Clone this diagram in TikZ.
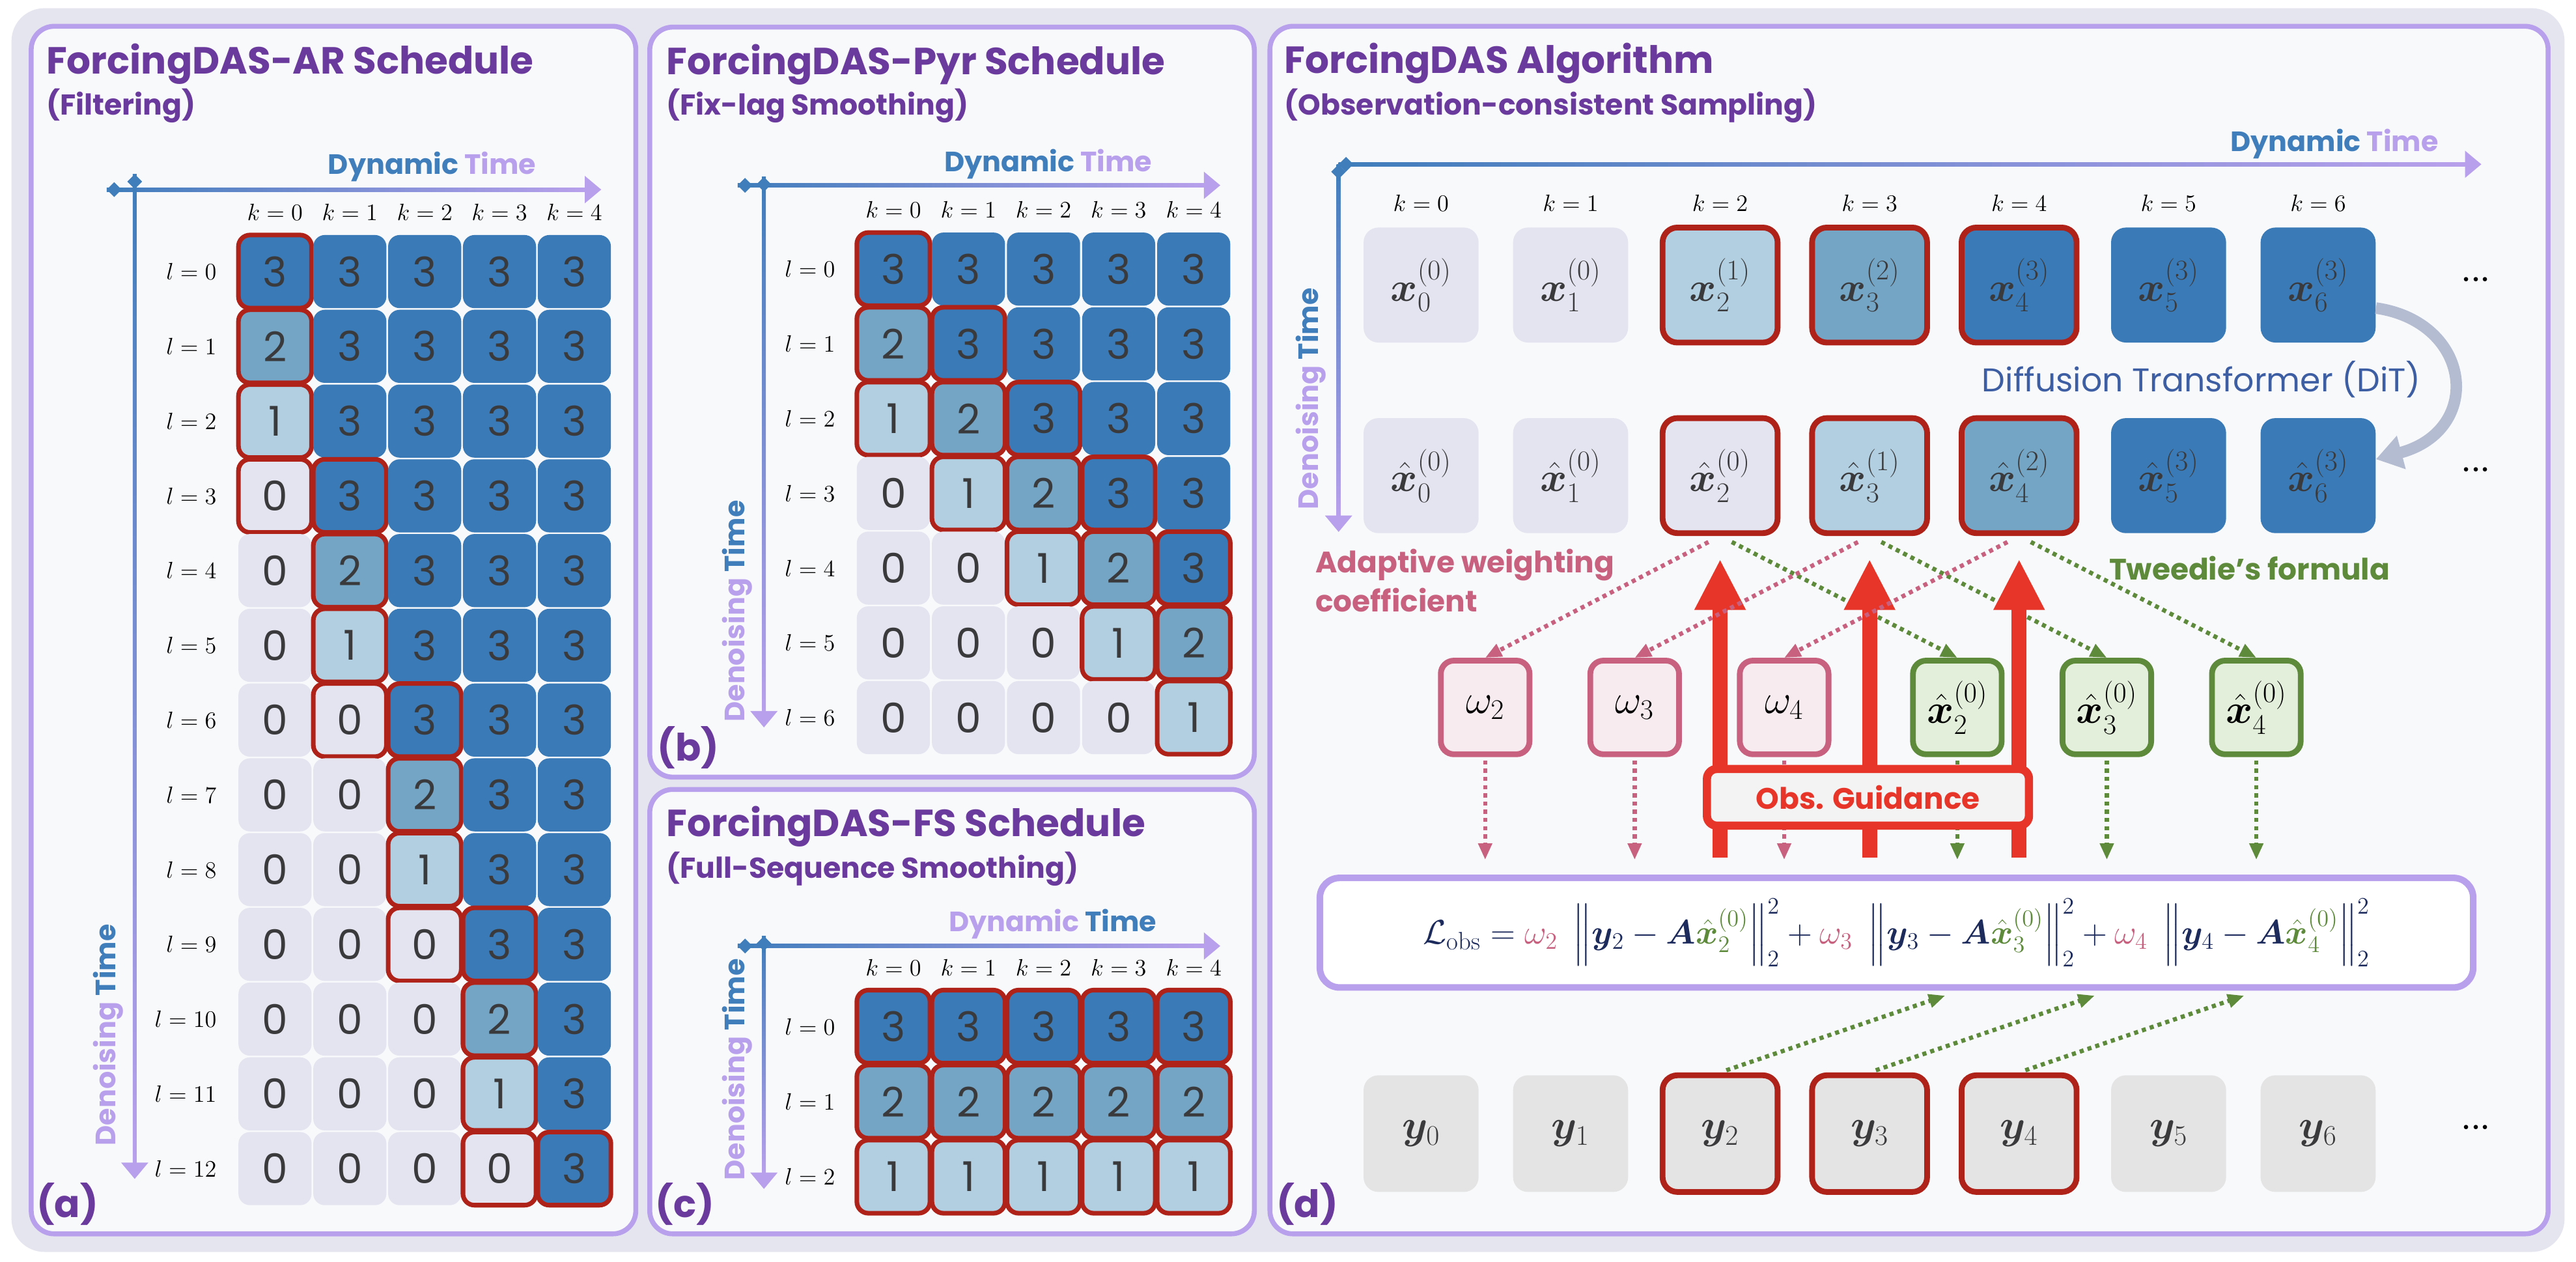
\documentclass[tikz,border=0pt]{standalone}
\usepackage{amsmath}
\usepackage{bm}
\usepackage{fontspec}
\usetikzlibrary{arrows.meta,positioning,calc}

\newfontfamily\comicfont{Poppins}

\definecolor{bgout}{HTML}{E5E5F0}
\definecolor{panelfill}{HTML}{F8F9FB}
\definecolor{panelline}{HTML}{B9A0EC}
\definecolor{titlepurple}{HTML}{6A3A9C}
\definecolor{darkblue}{HTML}{3A7AB6}
\definecolor{midblue}{HTML}{74A5C5}
\definecolor{lightblue}{HTML}{B1CFE0}
\definecolor{lvgray}{HTML}{E4E4F0}
\definecolor{redline}{HTML}{AE2219}
\definecolor{digit}{HTML}{3A3A3C}
\definecolor{axblue}{HTML}{3F7DBB}
\definecolor{axlilac}{HTML}{B9A0EC}
\definecolor{wpink}{HTML}{C7617F}
\definecolor{wfill}{HTML}{F8EBEF}
\definecolor{tgreen}{HTML}{5E8A3B}
\definecolor{tfill}{HTML}{E3EFDA}
\definecolor{obsred}{HTML}{E8352A}
\definecolor{obsfill}{HTML}{F3F3F3}
\definecolor{ygray}{HTML}{E4E4E4}
\definecolor{navy}{HTML}{1C2A5C}
\definecolor{ditblue}{HTML}{3E5EA3}
\definecolor{ditgray}{HTML}{B4BCD2}

\newcommand{\ttlfnt}{\comicfont\bfseries\fontsize{23}{27}\selectfont}
\newcommand{\subfnt}{\comicfont\bfseries\fontsize{17.5}{20}\selectfont}
\newcommand{\axfnt}{\comicfont\bfseries\fontsize{17}{20}\selectfont}
\newcommand{\celltxt}{\comicfont\fontsize{25}{28}\selectfont}
\newcommand{\labfnt}{\fontsize{15}{18}\selectfont}
\newcommand{\symfnt}{\fontsize{26}{30}\selectfont}
\newcommand{\notefnt}{\comicfont\bfseries\fontsize{18}{23.6}\selectfont}

% horizontal start, vertical x, horizontal y, horizontal end, vertical start, vertical end
\newcommand{\timeaxes}[6]{%
  \shade[left color=axblue,right color=axlilac] (#1,#3-1.2) rectangle (#4-8,#3+1.2);
  \draw[axlilac,line width=2.4pt,-{Triangle[length=10pt,width=16pt]}] (#4-11,#3) -- (#4,#3);
  \draw[axblue,line width=2.4pt,{Diamond[length=9pt,width=9pt]}-] (#1,#3) -- (#1+10,#3);
  \shade[top color=axblue,bottom color=axlilac] (#2-1.2,#5) rectangle (#2+1.2,#6-8);
  \draw[axlilac,line width=2.4pt,-{Triangle[length=10pt,width=16pt]}] (#2,#6-11) -- (#2,#6);
  \draw[axblue,line width=2.4pt,{Diamond[length=9pt,width=9pt]}-] (#2,#5) -- (#2,#5+10);
}

\begin{document}
\begin{tikzpicture}[x=1pt,y=-1pt,
    panel/.style={draw=panelline, line width=3pt, fill=panelfill, rounded corners=14pt},
    ttl/.style={anchor=base west, inner sep=0pt, text=titlepurple, font=\ttlfnt},
    subttl/.style={anchor=base west, inner sep=0pt, text=titlepurple, font=\subfnt},
    tag/.style={inner sep=0pt, text=titlepurple, font=\ttlfnt},
    dynlab/.style={anchor=base, inner sep=0pt, font=\axfnt},
    denlab/.style={rotate=90, inner sep=0pt, font=\axfnt},
    collab/.style={inner sep=0pt, font=\labfnt},
    rowlab/.style={anchor=east, inner sep=0pt, font=\labfnt},
    cell/.style={rounded corners=7pt, minimum size=44.5pt, inner sep=0pt, font=\celltxt, text=digit},
    c0/.style={cell, fill=lvgray}, c1/.style={cell, fill=lightblue},
    c2/.style={cell, fill=midblue}, c3/.style={cell, fill=darkblue},
    hot0/.style={}, hot1/.style={draw=redline, line width=2.8pt},
    xbox/.style={rounded corners=9pt, minimum width=70pt, minimum height=70pt, inner sep=0pt, font=\symfnt, text=digit},
    lv/.style={fill=lvgray}, lvr/.style={fill=lvgray, draw=redline, line width=3.5pt},
    lbr/.style={fill=lightblue, draw=redline, line width=3.5pt},
    mbr/.style={fill=midblue, draw=redline, line width=3.5pt},
    dbr/.style={fill=darkblue, draw=redline, line width=3.5pt},
    db/.style={fill=darkblue},
    gy/.style={fill=ygray}, gyr/.style={fill=ygray, draw=redline, line width=3.5pt},
    wbox/.style={rounded corners=8pt, minimum width=54pt, minimum height=57pt, inner sep=0pt, font=\symfnt, draw=wpink, line width=3.5pt, fill=wfill},
    ebox/.style={wbox, draw=tgreen, fill=tfill},
    pinkdot/.style={draw=wpink, line width=2.6pt, dash pattern=on 2.5pt off 2.5pt, -{Triangle[length=10pt,width=8pt]}},
    greendot/.style={pinkdot, draw=tgreen},
    obsarrow/.style={draw=obsred, line width=9pt, -{Triangle[length=31pt,width=29pt]}},
    obsbox/.style={draw=obsred, line width=5pt, fill=obsfill, rounded corners=6pt, minimum width=196pt, minimum height=34.5pt, text=obsred, font=\notefnt},
    lossbox/.style={draw=panelline, line width=4pt, fill=white, rounded corners=12pt, minimum width=702pt, minimum height=66.7pt, text=navy, font=\fontsize{22}{26}\selectfont},
    ditarrow/.style={draw=ditgray, line width=7pt, -{Triangle[length=16pt,width=20pt]}}]

    \fill[white] (0,0) rectangle (1568,768);
    \useasboundingbox (0,0) rectangle (1568,768);
    \fill[bgout, rounded corners=20pt] (7,5) rectangle (1561,762);

    % Panels

    \draw[panel] (19,16) rectangle (387,751);
    \draw[panel] (395.5,16.5) rectangle (763.5,473);
    \draw[panel] (395.5,480.5) rectangle (763.5,751);
    \draw[panel] (773,16) rectangle (1551,751);

    % (a) AR schedule

    \node[ttl] (ta) at (28,45) {ForcingDAS-AR Schedule};
    \node[subttl] (sa) at (28,70) {(Filtering)};
    \node[tag] (taga) at (41,733) {(a)};
    \timeaxes{65}{82}{115.4}{366}{106}{717.6}
    \node[dynlab] (dyna) at (263,106) {\textcolor{axblue}{Dynamic} \textcolor{axlilac}{Time}};
    \node[denlab] (dena) at (66,630) {\textcolor{axlilac}{Denoising} \textcolor{axblue}{Time}};
    \foreach \k in {0,...,4}
        \node[collab] (ka\k) at (167.4+45.55*\k,129) {$k=\k$};
    \foreach \row in {0,...,12} {
        \node[rowlab] (la\row) at (132,165.3+45.5*\row) {$l=\row$};
        \foreach \k [
            evaluate = \k as \v using {int(min(3,max(0,3*\k+3-\row)))},
            evaluate = \k as \h using {int((\row>3*\k-1)*(\row<3*\k+4))},
        ] in {0,...,4}
            \node[c\v,hot\h] (a\row-\k) at (167.4+45.55*\k,165.3+45.5*\row) {\v};
    }

    % (b) Pyramid schedule

    \node[ttl] (tb) at (405.5,45.5) {ForcingDAS-Pyr Schedule};
    \node[subttl] (sb) at (405.5,70) {(Fix-lag Smoothing)};
    \node[tag] (tagb) at (419,455) {(b)};
    \timeaxes{449}{465}{112.8}{742.8}{107.7}{442.8}
    \node[dynlab] (dynb) at (638,104.6) {\textcolor{axblue}{Dynamic} \textcolor{axlilac}{Time}};
    \node[denlab] (denb) at (448.6,372) {\textcolor{axlilac}{Denoising} \textcolor{axblue}{Time}};
    \foreach \k in {0,...,4}
        \node[collab] (kb\k) at (543.8+45.7*\k,127.4) {$k=\k$};
    \foreach \row in {0,...,6} {
        \node[rowlab] (lb\row) at (508.5,163.8+45.5*\row) {$l=\row$};
        \foreach \k [
            evaluate = \k as \v using {int(min(3,max(0,\k+3-\row)))},
            evaluate = \k as \h using {int((\row>\k-1)*(\row<\k+3))},
        ] in {0,...,4}
            \node[c\v,hot\h] (b\row-\k) at (543.8+45.7*\k,163.8+45.5*\row) {\v};
    }

    % (c) Full-sequence schedule

    \node[ttl] (tc) at (405.5,509) {ForcingDAS-FS Schedule};
    \node[subttl] (sc) at (405.5,534.3) {(Full-Sequence Smoothing)};
    \node[tag] (tagc) at (417,733) {(c)};
    \timeaxes{449}{465}{575.8}{742.8}{569.8}{723.7}
    \node[dynlab] (dync) at (640.8,567) {\textcolor{axlilac}{Dynamic} \textcolor{axblue}{Time}};
    \node[denlab] (denc) at (448.6,651) {\textcolor{axlilac}{Denoising} \textcolor{axblue}{Time}};
    \foreach \k in {0,...,4}
        \node[collab] (kc\k) at (543.8+45.7*\k,589) {$k=\k$};
    \foreach \row [evaluate = \row as \v using {int(3-\row)}] in {0,1,2} {
        \node[rowlab] (lc\row) at (508.5,624.9+45.65*\row) {$l=\row$};
        \foreach \k in {0,...,4}
            \node[c\v,hot1] (c\row-\k) at (543.8+45.7*\k,624.9+45.65*\row) {\v};
    }

    % (d) Algorithm

    \node[ttl] (td) at (781.6,44.5) {ForcingDAS Algorithm};
    \node[subttl] (sd) at (781.6,69.8) {(Observation-consistent Sampling)};
    \node[tag] (tagd) at (795.7,733) {(d)};
    \timeaxes{814.8}{814.8}{100}{1510.4}{100}{323.8}
    \node[dynlab] (dynd) at (1421,92) {\textcolor{axblue}{Dynamic} \textcolor{axlilac}{Time}};
    \node[denlab] (dend) at (798,242.7) {\textcolor{axlilac}{Denoising} \textcolor{axblue}{Time}};
    \foreach \k in {0,...,6}
        \node[collab] (kd\k) at (865+91*\k,123.8) {$k=\k$};

    \foreach \b/\st/\up in {0/lv/0,1/lv/0,2/lbr/1,3/mbr/2,4/dbr/3,5/db/3,6/db/3}
        \node[xbox,\st] (x\b) at (865+91*\b,173.5) {$\bm{x}_{\b}^{(\up)}$};
    \foreach \b/\st/\up in {0/lv/0,1/lv/0,2/lvr/0,3/lbr/1,4/mbr/2,5/db/3,6/db/3}
        \node[xbox,\st] (xh\b) at (865+91*\b,289.5) {$\hat{\bm{x}}_{\b}^{(\up)}$};
    \foreach \b/\st in {0/gy,1/gy,2/gyr,3/gyr,4/gyr,5/gy,6/gy}
        \node[xbox,\st,minimum height=71pt] (y\b) at (865+91*\b,690) {$\bm{y}_{\b}$};
    \node[font=\fontsize{18}{20}\selectfont\bfseries] (dx) at (1507,170) {...};
    \node[font=\fontsize{18}{20}\selectfont\bfseries] (dxh) at (1507,286) {...};
    \node[font=\fontsize{18}{20}\selectfont\bfseries] (dy) at (1507,686) {...};

    \draw[ditarrow] ([yshift=-14pt]x6.east) .. controls (1505,196) and (1512,262) .. ([yshift=10pt]xh6.east);
    \node[anchor=base, inner sep=0pt, text=ditblue, font=\comicfont\fontsize{20}{23}\selectfont] (dit) at (1340,238.6) {Diffusion Transformer (DiT)};

    \node[anchor=north west, align=left, inner sep=0pt, text=wpink, font=\notefnt] (awc) at (800.5,334) {Adaptive weighting\\coefficient};
    \node[anchor=base west, inner sep=0pt, text=tgreen, font=\notefnt] (twf) at (1283.6,353) {Tweedie’s formula};

    \foreach \b in {2,3,4} {
        \node[wbox] (w\b) at (904+91*\b-182,430.6) {$\omega_{\b}$};
        \node[ebox] (e\b) at (1191.4+91*\b-182,430.6) {$\hat{\bm{x}}_{\b}^{(0)}$};
    }

    \node[lossbox] (lobs) at (1154.4,567.7) {$\mathcal{L}_{\mathrm{obs}}=\textcolor{wpink}{\omega_2}\;\left\|\bm{y}_2-\bm{A}\textcolor{tgreen}{\hat{\bm{x}}_2^{(0)}}\right\|_2^2+\textcolor{wpink}{\omega_3}\;\left\|\bm{y}_3-\bm{A}\textcolor{tgreen}{\hat{\bm{x}}_3^{(0)}}\right\|_2^2+\textcolor{wpink}{\omega_4}\;\left\|\bm{y}_4-\bm{A}\textcolor{tgreen}{\hat{\bm{x}}_4^{(0)}}\right\|_2^2$};

    % Weights and Tweedie estimates

    \foreach \b in {2,3,4} {
        \draw[pinkdot, shorten <=8pt] (xh\b.south) -- (w\b.north);
        \draw[greendot, shorten <=8pt] (xh\b.south) -- (e\b.north);
        \draw[pinkdot, shorten <=2pt, shorten >=9pt] (w\b.south) -- (w\b.south |- lobs.north);
        \draw[greendot, shorten <=2pt, shorten >=9pt] (e\b.south) -- (e\b.south |- lobs.north);
        \coordinate (rb\b) at (xh\b.south |- 0,522);
        \draw[obsarrow, shorten >=14pt] (rb\b) -- (xh\b.south);
        \coordinate (lt\b) at (1184+91*\b-182,606);
        \draw[greendot, shorten <=4pt] (y\b.north) -- (lt\b);
    }
    \node[obsbox] (obs) at (1137,485.3) {Obs. Guidance};
\end{tikzpicture}
\end{document}
